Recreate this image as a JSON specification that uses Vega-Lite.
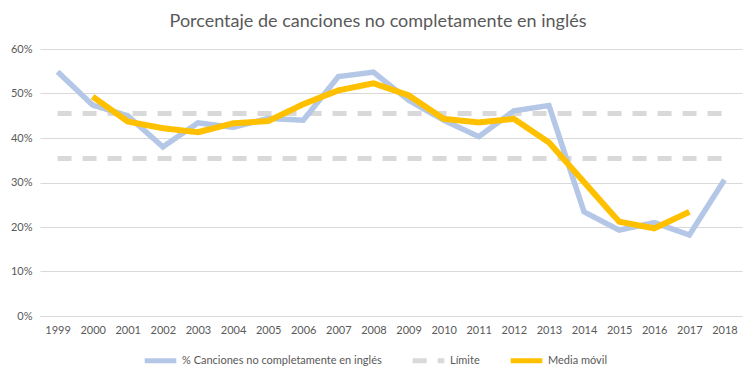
{
  "$schema": "https://vega.github.io/schema/vega-lite/v6.json",
  "width": 702,
  "height": 267,
  "autosize": {"type": "none"},
  "padding": {"left": 40, "top": 49, "right": 14, "bottom": 62},
  "background": "white",
  "title": {
    "text": "Porcentaje de canciones no completamente en inglés",
    "anchor": "middle",
    "dx": -13,
    "offset": 12,
    "font": "Lato",
    "fontSize": 18,
    "fontWeight": "normal",
    "color": "#595959"
  },
  "data": {
    "values": [
      {"year": "1999", "value": 0.549, "series": "% Canciones no completamente en inglés", "line": "a"},
      {"year": "2000", "value": 0.474, "series": "% Canciones no completamente en inglés", "line": "a"},
      {"year": "2001", "value": 0.450, "series": "% Canciones no completamente en inglés", "line": "a"},
      {"year": "2002", "value": 0.380, "series": "% Canciones no completamente en inglés", "line": "a"},
      {"year": "2003", "value": 0.434, "series": "% Canciones no completamente en inglés", "line": "a"},
      {"year": "2004", "value": 0.424, "series": "% Canciones no completamente en inglés", "line": "a"},
      {"year": "2005", "value": 0.444, "series": "% Canciones no completamente en inglés", "line": "a"},
      {"year": "2006", "value": 0.440, "series": "% Canciones no completamente en inglés", "line": "a"},
      {"year": "2007", "value": 0.538, "series": "% Canciones no completamente en inglés", "line": "a"},
      {"year": "2008", "value": 0.548, "series": "% Canciones no completamente en inglés", "line": "a"},
      {"year": "2009", "value": 0.485, "series": "% Canciones no completamente en inglés", "line": "a"},
      {"year": "2010", "value": 0.440, "series": "% Canciones no completamente en inglés", "line": "a"},
      {"year": "2011", "value": 0.403, "series": "% Canciones no completamente en inglés", "line": "a"},
      {"year": "2012", "value": 0.461, "series": "% Canciones no completamente en inglés", "line": "a"},
      {"year": "2013", "value": 0.473, "series": "% Canciones no completamente en inglés", "line": "a"},
      {"year": "2014", "value": 0.234, "series": "% Canciones no completamente en inglés", "line": "a"},
      {"year": "2015", "value": 0.193, "series": "% Canciones no completamente en inglés", "line": "a"},
      {"year": "2016", "value": 0.210, "series": "% Canciones no completamente en inglés", "line": "a"},
      {"year": "2017", "value": 0.182, "series": "% Canciones no completamente en inglés", "line": "a"},
      {"year": "2018", "value": 0.306, "series": "% Canciones no completamente en inglés", "line": "a"},
      {"year": "1999", "value": 0.455, "series": "Límite", "line": "upper"},
      {"year": "2018", "value": 0.455, "series": "Límite", "line": "upper"},
      {"year": "1999", "value": 0.354, "series": "Límite", "line": "lower"},
      {"year": "2018", "value": 0.354, "series": "Límite", "line": "lower"},
      {"year": "2000", "value": 0.493, "series": "Media móvil", "line": "m"},
      {"year": "2001", "value": 0.437, "series": "Media móvil", "line": "m"},
      {"year": "2002", "value": 0.422, "series": "Media móvil", "line": "m"},
      {"year": "2003", "value": 0.413, "series": "Media móvil", "line": "m"},
      {"year": "2004", "value": 0.433, "series": "Media móvil", "line": "m"},
      {"year": "2005", "value": 0.438, "series": "Media móvil", "line": "m"},
      {"year": "2006", "value": 0.476, "series": "Media móvil", "line": "m"},
      {"year": "2007", "value": 0.507, "series": "Media móvil", "line": "m"},
      {"year": "2008", "value": 0.523, "series": "Media móvil", "line": "m"},
      {"year": "2009", "value": 0.496, "series": "Media móvil", "line": "m"},
      {"year": "2010", "value": 0.443, "series": "Media móvil", "line": "m"},
      {"year": "2011", "value": 0.435, "series": "Media móvil", "line": "m"},
      {"year": "2012", "value": 0.443, "series": "Media móvil", "line": "m"},
      {"year": "2013", "value": 0.390, "series": "Media móvil", "line": "m"},
      {"year": "2014", "value": 0.301, "series": "Media móvil", "line": "m"},
      {"year": "2015", "value": 0.212, "series": "Media móvil", "line": "m"},
      {"year": "2016", "value": 0.197, "series": "Media móvil", "line": "m"},
      {"year": "2017", "value": 0.234, "series": "Media móvil", "line": "m"}
    ]
  },
  "encoding": {
    "x": {
      "field": "year",
      "type": "ordinal",
      "scale": {"type": "point", "padding": 0.5},
      "axis": {
        "title": null,
        "labelAngle": 0,
        "domain": true,
        "domainColor": "#d9d9d9",
        "ticks": false,
        "labelPadding": 8,
        "labelFont": "Lato",
        "labelFontSize": 11,
        "labelColor": "#595959"
      }
    },
    "y": {
      "field": "value",
      "type": "quantitative",
      "scale": {"domain": [0, 0.6]},
      "axis": {
        "title": null,
        "format": ".0%",
        "values": [0, 0.1, 0.2, 0.3, 0.4, 0.5, 0.6],
        "domain": false,
        "ticks": false,
        "gridColor": "#d9d9d9",
        "labelPadding": 8,
        "labelFont": "Lato",
        "labelFontSize": 11,
        "labelColor": "#595959"
      }
    },
    "color": {
      "field": "series",
      "type": "nominal",
      "scale": {
        "domain": ["% Canciones no completamente en inglés", "Límite", "Media móvil"],
        "range": ["#b4c7e7", "#d9d9d9", "#ffc000"]
      },
      "legend": {
        "title": null,
        "orient": "none",
        "direction": "horizontal",
        "legendX": 102,
        "legendY": 293,
        "symbolType": "stroke",
        "symbolSize": 1000,
        "symbolStrokeWidth": 5,
        "labelFont": "Lato",
        "labelFontSize": 11,
        "labelColor": "#595959",
        "labelOffset": 3,
        "labelLimit": 400,
        "columnPadding": 20
      }
    },
    "strokeDash": {
      "field": "series",
      "type": "nominal",
      "scale": {
        "domain": ["% Canciones no completamente en inglés", "Límite", "Media móvil"],
        "range": [[1, 0], [14, 11], [1, 0]]
      },
      "legend": {
        "title": null,
        "orient": "none",
        "direction": "horizontal",
        "legendX": 102,
        "legendY": 293,
        "symbolType": "stroke",
        "symbolSize": 1000,
        "symbolStrokeWidth": 5,
        "labelFont": "Lato",
        "labelFontSize": 11,
        "labelColor": "#595959",
        "labelOffset": 3,
        "labelLimit": 400,
        "columnPadding": 20
      }
    },
    "detail": {"field": "line"}
  },
  "layer": [
    {
      "transform": [{"filter": "datum.series === 'Límite'"}],
      "mark": {"type": "line", "strokeWidth": 5}
    },
    {
      "transform": [{"filter": "datum.series === '% Canciones no completamente en inglés'"}],
      "mark": {"type": "line", "strokeWidth": 5.5}
    },
    {
      "transform": [{"filter": "datum.series === 'Media móvil'"}],
      "mark": {"type": "line", "strokeWidth": 6}
    }
  ],
  "config": {
    "view": {"stroke": null}
  }
}
